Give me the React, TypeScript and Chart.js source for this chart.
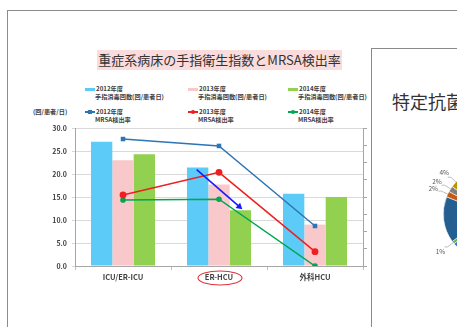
import React, { useEffect, useRef } from "react";
import { Chart, registerables } from "chart.js";
Chart.register(...registerables);

const chartTitle = "重症系病床の手指衛生指数とMRSA検出率";
const categories = ["ICU/ER-ICU", "ER-HCU", "外科HCU"];
const years = ["2012年度", "2013年度", "2014年度"];
const barSeriesName = "手指消毒回数(回/患者日)";
const lineSeriesName = "MRSA検出率";
const yAxisUnit = "(回/患者/日)";
const handRub2012 = [27.0, 21.4, 15.7];
const handRub2013 = [23.0, 17.7, 9.0];
const handRub2014 = [24.3, 12.1, 15.0];
const mrsa2012 = [7.36, 6.96, 2.32];
const mrsa2013 = [4.12, 5.43, 0.83];
const mrsa2014 = [3.83, 3.87, 0.0];
const leftAxisMax = 30;
const leftAxisStep = 5;
const rightAxisMax = 8;
const rightAxisStep = 1;

const pieTitle = "特定抗菌薬";
const pieValues = [25, 20, 19, 1, 16, 2, 2, 4, 11];
const pieColors = ["#5B9BD5", "#264478", "#4472C4", "#70AD47", "#255E91", "#C55A11", "#7F7F7F", "#BF9000", "#9E480E"];

const barColors = ["#5CCBF7", "#F9C8CA", "#92D050"];
const lineColors = ["#2E75B6", "#F01E1E", "#00A650"];
const pointStyles = ["rect", "circle", "circle"];
const pointSizes = [3.2, 3.4, 2.8];

const FONT = '"Noto Sans CJK JP", "Noto Sans", sans-serif';

const arrowPlugin = {
  id: "arrowPlugin",
  afterDatasetsDraw(chart: any) {
    const a = chart.getDatasetMeta(0).data[1];
    const b = chart.getDatasetMeta(2).data[1];
    if (!a || !b) return;
    const ctx = chart.ctx;
    const x0 = a.x - 1, y0 = a.y + 2;
    const x1 = b.x + 2, y1 = b.y - 1;
    const ang = Math.atan2(y1 - y0, x1 - x0);
    ctx.save();
    ctx.strokeStyle = "#1a1aff";
    ctx.fillStyle = "#1a1aff";
    ctx.lineWidth = 1.6;
    ctx.beginPath();
    ctx.moveTo(x0, y0);
    ctx.lineTo(x1 - 4 * Math.cos(ang), y1 - 4 * Math.sin(ang));
    ctx.stroke();
    ctx.beginPath();
    ctx.moveTo(x1, y1);
    ctx.lineTo(x1 - 6 * Math.cos(ang) + 3.5 * Math.sin(ang), y1 - 6 * Math.sin(ang) - 3.5 * Math.cos(ang));
    ctx.lineTo(x1 - 6 * Math.cos(ang) - 3.5 * Math.sin(ang), y1 - 6 * Math.sin(ang) + 3.5 * Math.cos(ang));
    ctx.closePath();
    ctx.fill();
    ctx.restore();
  },
};

const ellipsePlugin = {
  id: "ellipsePlugin",
  afterDraw(chart: any) {
    const xs = chart.scales.x;
    const cx = xs.getPixelForValue(1) + 1;
    const cy = chart.chartArea.bottom + 12;
    const ctx = chart.ctx;
    ctx.save();
    ctx.strokeStyle = "#E0303A";
    ctx.lineWidth = 1.1;
    ctx.beginPath();
    ctx.ellipse(cx, cy, 22, 7, 0, 0, Math.PI * 2);
    ctx.stroke();
    ctx.restore();
  },
};

const pieLabelPlugin = {
  id: "pieLabelPlugin",
  afterDatasetsDraw(chart: any) {
    const meta = chart.getDatasetMeta(0);
    const ctx = chart.ctx;
    const total = pieValues.reduce((s, v) => s + v, 0);
    ctx.save();
    ctx.font = `6.5px ${FONT}`;
    ctx.fillStyle = "#595959";
    ctx.strokeStyle = "#a0a0a0";
    ctx.lineWidth = 0.7;
    ctx.textAlign = "center";
    ctx.textBaseline = "middle";
    meta.data.forEach((arc: any, i: number) => {
      const mid = (arc.startAngle + arc.endAngle) / 2;
      const r = arc.outerRadius;
      const pct = Math.round((pieValues[i] / total) * 100) + "%";
      if (pieValues[i] < 5) {
        const ex = arc.x + Math.cos(mid) * r, ey = arc.y + Math.sin(mid) * r;
        const lx = arc.x + Math.cos(mid) * (r + 7), ly = arc.y + Math.sin(mid) * (r + 7);
        ctx.beginPath();
        ctx.moveTo(ex, ey);
        ctx.lineTo(lx, ly);
        ctx.lineTo(lx - 3, ly);
        ctx.stroke();
        ctx.fillText(pct, arc.x + Math.cos(mid) * (r + 16), arc.y + Math.sin(mid) * (r + 14));
      } else {
        ctx.fillText(pct, arc.x + Math.cos(mid) * r * 0.65, arc.y + Math.sin(mid) * r * 0.65);
      }
    });
    ctx.restore();
  },
};

function LegendSwatch({ kind, idx }: { kind: "bar" | "line"; idx: number }) {
  if (kind === "bar") {
    return <div style={{ position: "absolute", left: 0, top: 2.5, width: 10, height: 3, background: barColors[idx] }} />;
  }
  const style = pointStyles[idx];
  const s = idx === 0 ? 4 : 4;
  return (
    <div style={{ position: "absolute", left: 0, top: 0, width: 10, height: 8 }}>
      <div style={{ position: "absolute", left: 0, top: 3.3, width: 10, height: 1.4, background: lineColors[idx] }} />
      <div
        style={{
          position: "absolute",
          left: 5 - s / 2,
          top: 4 - s / 2,
          width: s,
          height: s,
          background: lineColors[idx],
          borderRadius: style === "circle" ? "50%" : 0,
        }}
      />
    </div>
  );
}

export default function App() {
  const mainRef = useRef<HTMLCanvasElement>(null);
  const pieRef = useRef<HTMLCanvasElement>(null);

  useEffect(() => {
    const tickFont = { family: FONT, size: 7, weight: "bold" as const };
    const barSets = [handRub2012, handRub2013, handRub2014].map((d, i) => ({
      type: "bar" as const,
      label: years[i] + barSeriesName,
      data: d,
      backgroundColor: barColors[i],
      yAxisID: "y",
      order: 1,
      categoryPercentage: 0.667,
      barPercentage: 1.0,
    }));
    const lineSets = [mrsa2012, mrsa2013, mrsa2014].map((d, i) => ({
      type: "line" as const,
      label: years[i] + lineSeriesName,
      data: d,
      borderColor: lineColors[i],
      backgroundColor: lineColors[i],
      pointStyle: pointStyles[i],
      pointRadius: pointSizes[i],
      pointBorderWidth: 0,
      borderWidth: 1.5,
      yAxisID: "y1",
      order: 0,
      tension: 0,
    }));
    const main = new Chart(mainRef.current!, {
      type: "bar",
      data: { labels: categories, datasets: [...barSets, ...lineSets] as any },
      options: {
        animation: false,
        responsive: false,
        maintainAspectRatio: false,
        layout: { padding: { top: 10, left: 0, right: 0, bottom: 0 } },
        plugins: { legend: { display: false }, tooltip: { enabled: false } },
        scales: {
          x: {
            grid: { drawOnChartArea: false, tickLength: 4, color: "#bfbfbf", offset: true },
            border: { color: "#a6a6a6" },
            ticks: { font: { family: FONT, size: 7.5, weight: "bold" }, color: "#404040", padding: 3 },
            afterFit: (s: any) => { s.height = 22; },
          },
          y: {
            position: "left",
            min: 0,
            max: leftAxisMax,
            ticks: { stepSize: leftAxisStep, callback: (v: any) => Number(v).toFixed(1), font: tickFont, color: "#404040", padding: 5 },
            grid: { color: "#d9d9d9", tickLength: 3 },
            border: { color: "#a6a6a6" },
            afterFit: (s: any) => { s.width = 65; },
          },
          y1: {
            position: "right",
            min: 0,
            max: rightAxisMax,
            ticks: { stepSize: rightAxisStep, display: false },
            grid: { drawOnChartArea: false, tickLength: 4, color: "#a6a6a6" },
            border: { color: "#a6a6a6" },
            afterFit: (s: any) => { s.width = 9; },
          },
        } as any,
      },
      plugins: [arrowPlugin, ellipsePlugin],
    });

    const pie = new Chart(pieRef.current!, {
      type: "pie",
      data: {
        labels: pieValues.map((_, i) => String(i)),
        datasets: [{ data: pieValues, backgroundColor: pieColors, borderColor: "#ffffff", borderWidth: 0.6 }],
      },
      options: {
        animation: false,
        responsive: false,
        maintainAspectRatio: false,
        layout: { padding: { left: 33, right: 33, top: 27, bottom: 29 } },
        plugins: { legend: { display: false }, tooltip: { enabled: false } },
      },
      plugins: [pieLabelPlugin],
    });

    return () => {
      main.destroy();
      pie.destroy();
    };
  }, []);

  const legendCols = [85, 188, 288];
  const legendRows = [85, 108];
  const textStyle: React.CSSProperties = {
    fontFamily: FONT,
    fontSize: 6.2,
    fontWeight: "bold",
    color: "#404040",
    lineHeight: "7.5px",
    whiteSpace: "nowrap",
  };

  return (
    <div style={{ position: "absolute", left: 0, top: 0, width: 457, height: 327, overflow: "hidden", background: "#fff" }}>
      <div style={{ position: "absolute", left: 7, top: 10, width: 500, height: 400, borderTop: "1.5px solid #8c8c8c", borderLeft: "1.5px solid #8c8c8c" }} />
      <div
        style={{
          position: "absolute",
          left: 97,
          top: 50,
          width: 245,
          height: 20,
          background: "#FADCDC",
          fontFamily: FONT,
          fontSize: 13,
          color: "#333",
          lineHeight: "20px",
          textAlign: "center",
          whiteSpace: "nowrap",
        }}
      >
        {chartTitle}
      </div>
      {legendRows.map((ry, r) =>
        legendCols.map((cx, c) => (
          <div key={`${r}-${c}`} style={{ position: "absolute", left: cx, top: ry, width: 120, height: 16 }}>
            <LegendSwatch kind={r === 0 ? "bar" : "line"} idx={c} />
            <div style={{ position: "absolute", left: 11, top: 0, ...textStyle }}>
              {years[c]}
              <br />
              <span style={{ marginLeft: -1 }}>{r === 0 ? barSeriesName : lineSeriesName}</span>
            </div>
          </div>
        ))
      )}
      <div style={{ position: "absolute", left: 33, top: 108, ...textStyle }}>{yAxisUnit}</div>
      <canvas ref={mainRef} width={362} height={170} style={{ position: "absolute", left: 10, top: 118, width: 362, height: 170, display: "block" }} />
      <div style={{ position: "absolute", left: 371, top: 48, width: 200, height: 400, border: "1px solid #8a8a8a", background: "#fff" }} />
      <div style={{ position: "absolute", left: 392, top: 89, fontFamily: FONT, fontSize: 18, lineHeight: "24px", color: "#333", whiteSpace: "nowrap" }}>
        {pieTitle}
      </div>
      <canvas ref={pieRef} width={160} height={150} style={{ position: "absolute", left: 410, top: 140, width: 160, height: 150, display: "block" }} />
    </div>
  );
}
